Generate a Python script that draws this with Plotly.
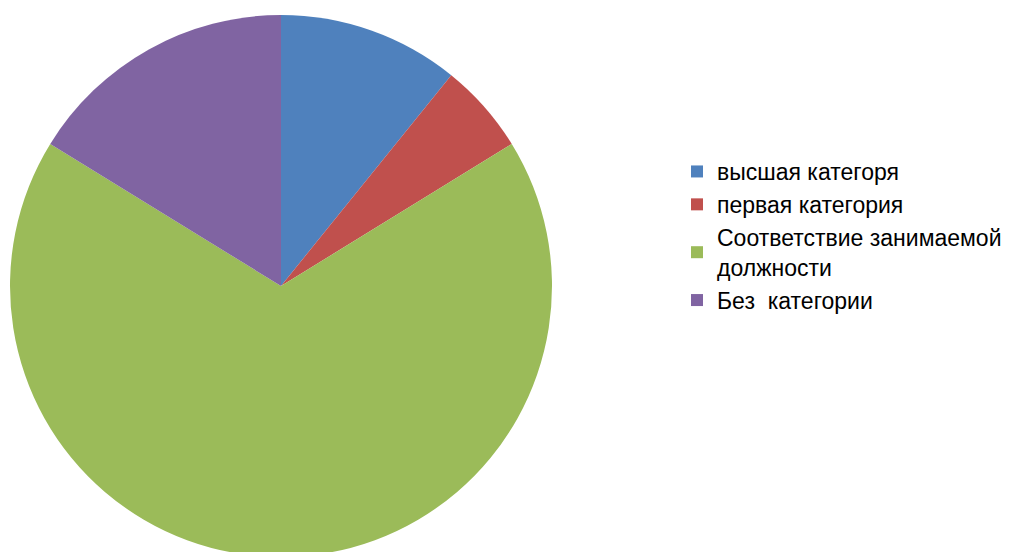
import plotly.graph_objects as go

labels = ["высшая категоря", "первая категория", "Соответствие занимаемой<br>должности", "Без  категории"]
values = [4, 2, 25, 6]
colors = ["#4F81BD", "#C0504D", "#9BBB59", "#8064A2"]

W, H = 1009, 552
# page body adds an 8px offset; figure coordinates account for it
fig = go.Figure(go.Pie(
    labels=labels,
    values=values,
    marker=dict(colors=colors, line=dict(width=0)),
    sort=False,
    direction="clockwise",
    rotation=0,
    textinfo="none",
    hoverinfo="label+value+percent",
    domain=dict(x=[2 / W, 544 / W], y=[3 / H, 545 / H]),
))
fig.update_layout(
    width=W, height=H,
    margin=dict(l=0, r=0, t=0, b=0),
    paper_bgcolor="white",
    plot_bgcolor="white",
    showlegend=True,
    legend=dict(
        x=669 / W, xanchor="left",
        y=1 - 228 / H, yanchor="middle",
        font=dict(family="Liberation Sans, Arial, sans-serif", size=23, color="#000000"),
        bgcolor="rgba(0,0,0,0)",
        itemwidth=30,
    ),
)
fig.write_html("out.html")
